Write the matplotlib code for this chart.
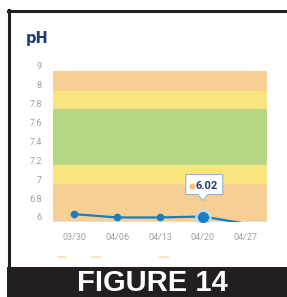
import numpy as np
import matplotlib
matplotlib.use("Agg")
import matplotlib.pyplot as plt
from matplotlib.patches import Rectangle, Polygon
from matplotlib.lines import Line2D
import matplotlib.transforms as mtrans

# data
dates = ['03/30', '04/06', '04/13', '04/20', '04/27']
ph = [6.12, 5.98, 5.98, 6.02, 5.72]
tick_vals = [6, 6.8, 7, 7.2, 7.4, 7.6, 7.8, 8, 9]
tick_labels = ['6', '6.8', '7', '7.2', '7.4', '7.6', '7.8', '8', '9']
# colour bands, in tick-slot units (bottom, top, colour)
bands = [(-0.3, 1.75, '#f8cf92'), (1.75, 2.75, '#f9e47e'), (2.75, 5.71, '#b6d886'),
         (5.71, 6.67, '#f9e47e'), (6.67, 7.72, '#f8cf92')]
hi = 3  # highlighted point
tip_text = '6.02'

W, H = 287, 297


def to_slot(v):
    # the y axis is evenly spaced by label, not by value
    v = np.asarray(v, dtype=float)
    k = np.interp(v, tick_vals, np.arange(len(tick_vals)))
    return np.where(v < 6, (v - 6) / 0.8, k)


def fx(px):
    return px / W


def fy(py):
    return 1 - py / H


fig = plt.figure(figsize=(W / 100, H / 100), dpi=100)
fig.patch.set_facecolor('white')

ax = fig.add_axes([fx(53), fy(222), fx(267) - fx(53), fy(62) - fy(222)])
ax.set_xlim(-0.5, 4.5)
ax.set_ylim(-0.265, 8.2)
for lo, top, c in bands:
    ax.axhspan(lo, top, color=c, lw=0, zorder=0)
ax.axhline(-0.265, color='#d6e6f2', lw=1.2, zorder=1)
ax.axvline(4.49, ymin=0, ymax=(7.72 + 0.265) / 8.465, color='#f2e6d8', lw=0.8)

x = np.arange(len(dates))
y = to_slot(ph)
ax.plot(x, y, color='#1a7cc1', lw=1.6, zorder=3, solid_capstyle='round')
ax.plot(x[:3], y[:3], 'o', color='#1a7cc1', ms=4.5, zorder=4)
ax.plot(x[hi], y[hi], 'o', color='#bfe0f0', ms=11, alpha=0.8, zorder=4)
ax.plot(x[hi], y[hi], 'o', color='#1a7cc1', ms=7, zorder=5)

for s in ax.spines.values():
    s.set_visible(False)
ax.set_xticks(x)
ax.set_xticklabels(dates)
ax.set_yticks(np.arange(len(tick_labels)))
ax.set_yticklabels(tick_labels)
ax.tick_params(length=0, labelsize=6.5, labelcolor='#a0a0a0', pad=8)
for t in ax.get_xticklabels() + ax.get_yticklabels():
    t.set_fontfamily('Roboto')
ax.patch.set_alpha(0)

# tooltip, drawn in pixels relative to the highlighted point
px, py = ax.transData.transform((x[hi], y[hi]))
ident = mtrans.IdentityTransform()
box = Polygon([(px - 17, py + 22), (px - 5, py + 22), (px, py + 16), (px + 5, py + 22),
               (px + 20, py + 22), (px + 20, py + 42), (px - 17, py + 42)],
              closed=True, fc='white', ec='#8ab8d6', lw=0.8, transform=ident, zorder=6)
fig.add_artist(box)
fig.add_artist(Line2D([px - 11], [py + 31], marker='o', ms=3.5, color='#f6c27a',
                      transform=ident, zorder=7))
fig.text(px + 4, py + 31, tip_text, transform=ident, ha='center', va='center', fontsize=8,
         fontweight='bold', color='#1f3b73', family='Roboto', zorder=8)

fig.text(fx(26), fy(38), 'pH', fontsize=10.5, fontweight='bold', color='#1f3b73',
         va='center', ha='left')

# faint legend remnants
for lx in [62, 96, 164]:
    fig.add_artist(Line2D([fx(lx - 4), fx(lx + 4)], [fy(257), fy(257)], color='#f3df9a',
                          lw=1.5, alpha=0.7))

# frame and caption band
fig.add_artist(Line2D([fx(8), fx(287)], [fy(11), fy(11)], color='#231f20', lw=2.2))
fig.add_artist(Line2D([fx(9), fx(9)], [fy(10), fy(267)], color='#231f20', lw=2.2))
fig.add_artist(Rectangle((fx(7), 0), 1 - fx(7), fy(267), transform=fig.transFigure,
                         color='#231f20', lw=0))
fig.text(fx(152), fy(283), 'FIGURE 14', fontsize=21, fontweight='bold', color='white',
         family='Liberation Sans', ha='center', va='center')

fig.savefig('out.png', dpi=100)
